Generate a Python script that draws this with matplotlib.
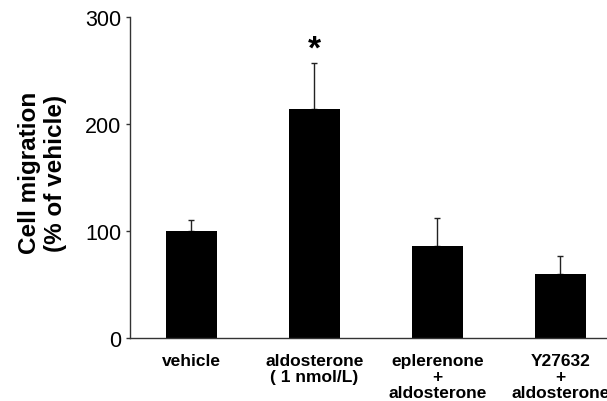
import matplotlib
matplotlib.use("Agg")
import matplotlib.pyplot as plt

plt.rcParams["font.family"] = ["Liberation Sans", "DejaVu Sans"]

groups = ["vehicle", "aldosterone\n( 1 nmol/L)", "eplerenone\n+\naldosterone", "Y27632\n+\naldosterone"]
means = [100, 214, 86, 59.5]
sem_up = [10, 43, 26, 17.5]
star_y = 262

fig = plt.figure(figsize=(6.07, 4.02), dpi=100)
ax = fig.add_axes([0.214, 0.1567, 0.8105, 0.798])

x = range(len(groups))
ax.bar(x, means, width=0.41, color="black", zorder=2)
ax.errorbar(x, means, yerr=[[0] * len(means), sem_up], fmt="none",
            ecolor="#222222", elinewidth=1.0, capsize=2.5, capthick=1.0, zorder=1)
ax.text(1, star_y, "*", ha="center", va="baseline", fontsize=24, fontweight="bold")

ax.set_xlim(-0.5, 3.5)
ax.set_ylim(0, 300)
ax.set_yticks([0, 100, 200, 300])
ax.set_xticks(list(x))
ax.set_xticklabels(groups, fontsize=12.5, fontweight="bold", linespacing=1.07)
ax.tick_params(axis="x", length=0, pad=11)
ax.tick_params(axis="y", length=3, labelsize=15.5, direction="out", width=1, color="#333333", pad=3)

for side in ["top", "right"]:
    ax.spines[side].set_visible(False)
for side in ["left", "bottom"]:
    ax.spines[side].set_linewidth(1.0)
    ax.spines[side].set_color("#333333")

ax.set_ylabel("Cell migration\n(% of vehicle)", fontsize=17.5, fontweight="bold", linespacing=1.15)
ax.yaxis.set_label_coords(-0.128, 0.517)

fig.savefig("out.png", dpi=100)
plt.close(fig)
